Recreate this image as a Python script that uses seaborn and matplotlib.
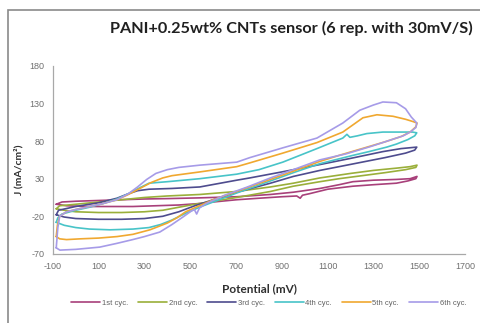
import numpy as np
import pandas as pd
import matplotlib
matplotlib.use("Agg")
import matplotlib.pyplot as plt
from matplotlib.patches import Rectangle
import seaborn as sns

# ---------------- data (potential in mV, current density in mA/cm2) ----------------
cycles = ["1st cyc.", "2nd cyc.", "3rd cyc.", "4th cyc.", "5th cyc.", "6th cyc."]
colors = ["#A8407A", "#9AAF3A", "#4E4C8E", "#48C4C8", "#F0A830", "#A69BE8"]

c1_v = [-85, -60, 0, 100, 200, 300, 400, 542, 703, 850, 950, 1066, 1150, 1210, 1300, 1400, 1460, 1490,
        1485, 1450, 1400, 1300, 1210, 1100, 1020, 990, 980, 965, 900, 800, 703, 600, 542, 450, 350, 250, 150, 50, -40, -85]
c1_j = [-4, -1, 0, 1, 2, 3, 3.5, 4.5, 6, 9, 12, 17, 22, 26, 28, 29, 30, 33,
        30, 27, 24, 22, 20, 16, 10, 8, 4, 7, 6, 4, 2, -1, -3, -5, -6, -7, -7, -7, -6, -4]

c2_v = [-85, -70, 0, 100, 200, 300, 400, 542, 703, 850, 950, 1066, 1200, 1300, 1400, 1460, 1490,
        1485, 1440, 1350, 1250, 1150, 1066, 950, 850, 703, 600, 520, 450, 380, 300, 200, 100, 0, -50, -85]
c2_j = [-10, -6, -4, -1, 2, 5, 7, 9, 13, 19, 24, 31, 37, 41, 44, 46, 48,
        45, 42, 38, 34, 30, 26, 20, 13, 5, 0, -4, -8, -12, -14, -15, -15, -14, -12, -10]

c3_v = [-85, -75, 0, 100, 180, 230, 270, 320, 420, 542, 703, 760, 900, 1053, 1200, 1341, 1420, 1489,
        1480, 1440, 1350, 1250, 1150, 1066, 950, 850, 703, 600, 520, 450, 380, 300, 200, 100, 0, -50, -85]
c3_j = [-18, -12, -7, -2, 4, 10, 14, 16, 17, 19, 28, 31, 39, 48, 57, 66, 70, 72,
        68, 64, 58, 52, 46, 41, 33, 24, 12, 2, -6, -14, -20, -23, -24, -24, -23, -21, -18]

c4_v = [-85, -78, -60, 0, 60, 120, 180, 230, 280, 320, 400, 542, 703, 800, 904, 1053, 1166, 1184, 1197,
        1230, 1271, 1341, 1420, 1470, 1489,
        1480, 1450, 1400, 1358, 1280, 1210, 1066, 950, 850, 703, 600, 540, 480, 420, 370, 320, 250, 150,
        60, 0, -50, -85]
c4_j = [-28, -22, -17, -12, -8, -3, 3, 10, 18, 24, 26, 30, 36, 42, 52, 70, 84, 89, 85,
        87, 90, 92, 92, 92, 91,
        87, 82, 76, 72, 66, 61, 50, 38, 27, 11, -1, -8, -16, -25, -31, -35, -37, -38,
        -37, -35, -32, -28]

c5_v = [-85, -80, -70, -40, 0, 60, 120, 180, 230, 280, 330, 380, 420, 542, 703, 760, 904, 1053, 1166,
        1254, 1315, 1385, 1440, 1472, 1490,
        1485, 1460, 1420, 1350, 1250, 1150, 1066, 950, 850, 703, 600, 540, 480, 442, 400, 324, 250, 180,
        100, 20, -40, -70, -85]
c5_j = [-47, -32, -20, -14, -11, -7, -3, 2, 9, 17, 25, 31, 34, 39, 46, 51, 64, 78, 92,
        111, 115, 113, 109, 106, 104,
        99, 92, 86, 79, 70, 61, 53, 40, 29, 13, 2, -6, -14, -22, -29, -38, -44, -47,
        -49, -50, -51, -50, -47]

c6_v = [-85, -78, -70, -40, 0, 60, 120, 180, 230, 270, 310, 350, 400, 450, 542, 703, 760, 904, 1053,
        1166, 1240, 1300, 1341, 1400, 1440, 1465, 1489,
        1485, 1460, 1430, 1370, 1290, 1180, 1066, 950, 850, 750, 650, 570, 540, 528, 518, 505, 468, 420,
        367, 300, 249, 180, 105, 0, -69, -85]
c6_j = [-62, -35, -20, -14, -11, -7, -3, 2, 10, 19, 29, 37, 42, 45, 48, 52, 58, 71, 84,
        104, 121, 128, 132, 131, 123, 112, 104,
        98, 92, 87, 81, 73, 63, 55, 42, 31, 19, 8, -3, -9, -17, -11, -13, -21, -31,
        -41, -47, -51, -56, -61, -64, -65, -62]

x_ticks = [-100, 100, 300, 500, 700, 900, 1100, 1300, 1500, 1700]
y_ticks = [-70, -20, 30, 80, 130, 180]

# ---------------- build long table ----------------
frames = []
for name, v, j in zip(cycles, [c1_v, c2_v, c3_v, c4_v, c5_v, c6_v],
                      [c1_j, c2_j, c3_j, c4_j, c5_j, c6_j]):
    frames.append(pd.DataFrame({"Potential": v, "J": j, "cycle": name,
                                "order": np.arange(len(v))}))
df = pd.concat(frames, ignore_index=True)

# ---------------- plot ----------------
sns.set_style("white")
plt.rcParams["font.family"] = ["Liberation Sans Narrow", "Liberation Sans", "DejaVu Sans"]

fig = plt.figure(figsize=(4.8, 3.23), dpi=100)
ax = fig.add_axes([0.110, 0.214, 0.859, 0.582])

sns.lineplot(data=df, x="Potential", y="J", hue="cycle", hue_order=cycles,
             palette=colors, sort=False, estimator=None, units="cycle",
             linewidth=1.2, ax=ax, legend=True)

handles, labels = ax.get_legend_handles_labels()
ax.get_legend().remove()

ax.set_xlim(-100, 1700)
ax.set_ylim(-70, 180)
ax.set_xticks(x_ticks)
ax.set_yticks(y_ticks)
ax.set_xticklabels([str(t) for t in x_ticks])
ax.set_yticklabels([str(t) for t in y_ticks])
ax.tick_params(axis="both", labelsize=6.5, labelcolor="#707070", colors="#A0A0A0",
               direction="out", length=3, width=0.8, pad=3)
for s in ["top", "right"]:
    ax.spines[s].set_visible(False)
for s in ["left", "bottom"]:
    ax.spines[s].set_color("#A8A8A8")
    ax.spines[s].set_linewidth(0.9)
ax.set_xlabel("")
ax.set_ylabel("")

fig.text(0.54, 0.105, "Potential (mV)", ha="center", va="center",
         fontsize=8.5, fontweight="bold", color="#303030",
         family=["Lato", "DejaVu Sans"])
fig.text(0.038, 0.474, "J (mA/cm²)", ha="center", va="center", rotation=90,
         fontsize=7.5, fontweight="bold", color="#303030",
         family=["Lato", "DejaVu Sans"])
fig.text(0.606, 0.913, "PANI+0.25wt% CNTs sensor (6 rep. with 30mV/S)",
         ha="center", va="center", fontsize=11.7, fontweight="bold", color="#202020",
         family=["Lato", "DejaVu Sans"])

leg = fig.legend(handles, labels, loc="center", bbox_to_anchor=(0.56, 0.062), ncol=6,
                 frameon=False, fontsize=5.5, handlelength=3.8, columnspacing=1.3,
                 handletextpad=0.2)
for t in leg.get_texts():
    t.set_color("#606060")

# outer chart frame (partially cropped)
fig.patches.append(Rectangle((8 / 480, -0.2), 1.2, 1.2 - 10 / 323,
                             transform=fig.transFigure, fill=False,
                             edgecolor="#8A8A8A", linewidth=1.2))

fig.savefig("out.png", dpi=100)
